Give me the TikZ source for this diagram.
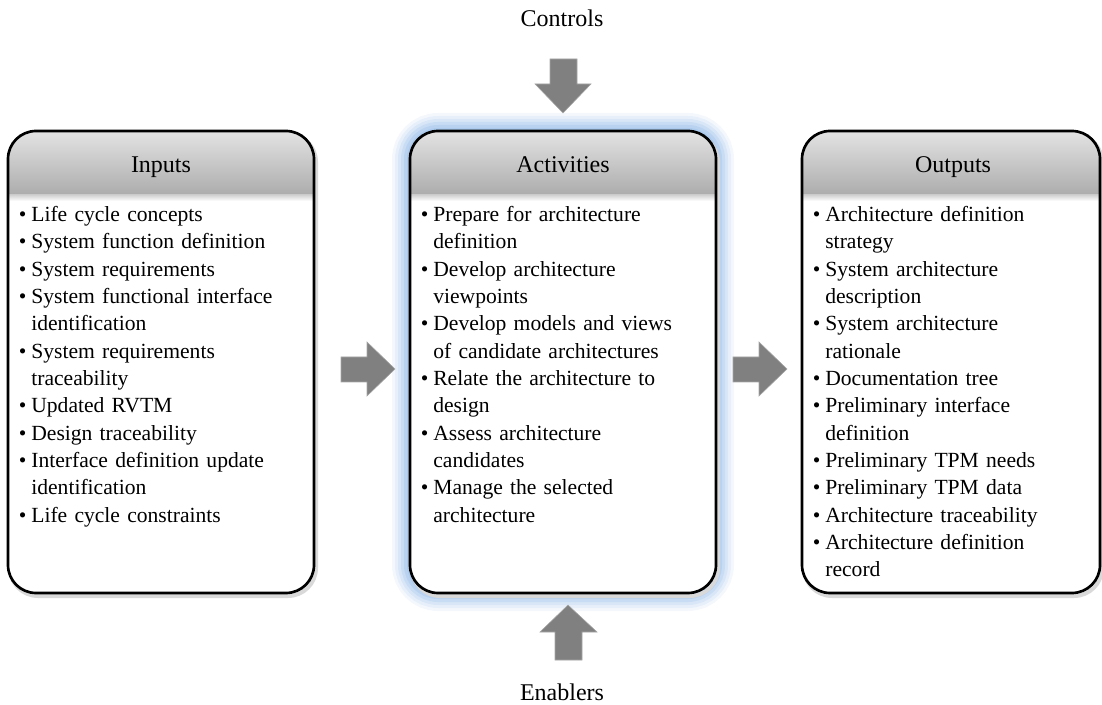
\documentclass[tikz,border=0pt]{standalone}
\usepackage{fontspec}
\setmainfont{Liberation Serif}
\usepackage{enumitem}
\setlist[itemize]{label=\textbullet,leftmargin=9.75pt,labelsep=3.6pt,itemsep=0pt,parsep=0pt,topsep=0pt,partopsep=0pt}
\definecolor{arrowgray}{RGB}{128,128,128}
\definecolor{glowblue}{RGB}{150,188,232}
\tikzset{
  boxframe/.style={line width=2pt,rounded corners=21pt},
  headtitle/.style={anchor=center,inner sep=1pt,font=\fontsize{18}{20}\selectfont},
  listtext/.style={anchor=north west,inner sep=0pt,text width=220pt,font=\fontsize{16.2}{20.5}\selectfont},
  blockarrow/.style={fill=arrowgray,draw=arrowgray!70,line width=.4pt}
}

\begin{document}
\begin{tikzpicture}[x=0.75pt,y=-0.75pt,line width=.5pt]
\path[use as bounding box] (0,0) rectangle (1102,705);
% glow round the activities box
\foreach \w/\o in {36/.10,30/.14,24/.18,18/.24,12/.3,6/.36}
  \draw[glowblue,line width=\w*0.75pt,opacity=\o,rounded corners=21pt] (410,131) rectangle (716,593);
% boxes with shaded heads
\foreach \xa/\xb in {8/314,410/716,802/1100}{
  \draw[gray!30,line width=3pt,rounded corners=21pt] (\xa+2,134) rectangle (\xb+2,596);
  \fill[white,rounded corners=21pt] (\xa,131) rectangle (\xb,593);
  \begin{scope}
    \clip[rounded corners=21pt] (\xa,131) rectangle (\xb,593);
    \shade[top color=gray!22,bottom color=gray!65] (\xa,131) rectangle (\xb,195);
    \shade[top color=gray!35,bottom color=white] (\xa,195) rectangle (\xb,201);
  \end{scope}
  \draw[boxframe] (\xa,131) rectangle (\xb,593);
}
\node[headtitle] (inputs) at (161,167) {Inputs};
\node[headtitle] (activities) at (563,165) {Activities};
\node[headtitle] (outputs) at (953,167) {Outputs};
% lists
\node[listtext] (inlist) at (18,194) {\begin{itemize}
\item Life cycle concepts
\item System function definition
\item System requirements
\item System functional interface\newline identification
\item System requirements\newline traceability
\item Updated RVTM
\item Design traceability
\item Interface definition update\newline identification
\item Life cycle constraints
\end{itemize}};
\node[listtext] (actlist) at (420,194) {\begin{itemize}
\item Prepare for architecture\newline definition
\item Develop architecture\newline viewpoints
\item Develop models and views\newline of candidate architectures
\item Relate the architecture to\newline design
\item Assess architecture\newline candidates
\item Manage the selected\newline architecture
\end{itemize}};
\node[listtext] (outlist) at (812,194) {\begin{itemize}
\item Architecture definition\newline strategy
\item System architecture\newline description
\item System architecture\newline rationale
\item Documentation tree
\item Preliminary interface\newline definition
\item Preliminary TPM needs
\item Preliminary TPM data
\item Architecture traceability
\item Architecture definition\newline record
\end{itemize}};
% block arrows
\draw[blockarrow] (341,357) -- (367,357) -- (367,342) -- (395,369) -- (367,396) -- (367,382) -- (341,382) -- cycle;
\draw[blockarrow] (733,357) -- (759,357) -- (759,342) -- (787,369) -- (759,396) -- (759,382) -- (733,382) -- cycle;
\draw[blockarrow] (550,59) -- (577,59) -- (577,84) -- (591,84) -- (563,113) -- (535,84) -- (550,84) -- cycle;
\draw[blockarrow] (555,660) -- (582,660) -- (582,632) -- (597,632) -- (568,605) -- (540,632) -- (555,632) -- cycle;
\node[headtitle] (controls) at (562,18) {Controls};
\node[headtitle,inner sep=0pt] (enablers) at (562,692) {Enablers};
\end{tikzpicture}
\end{document}
